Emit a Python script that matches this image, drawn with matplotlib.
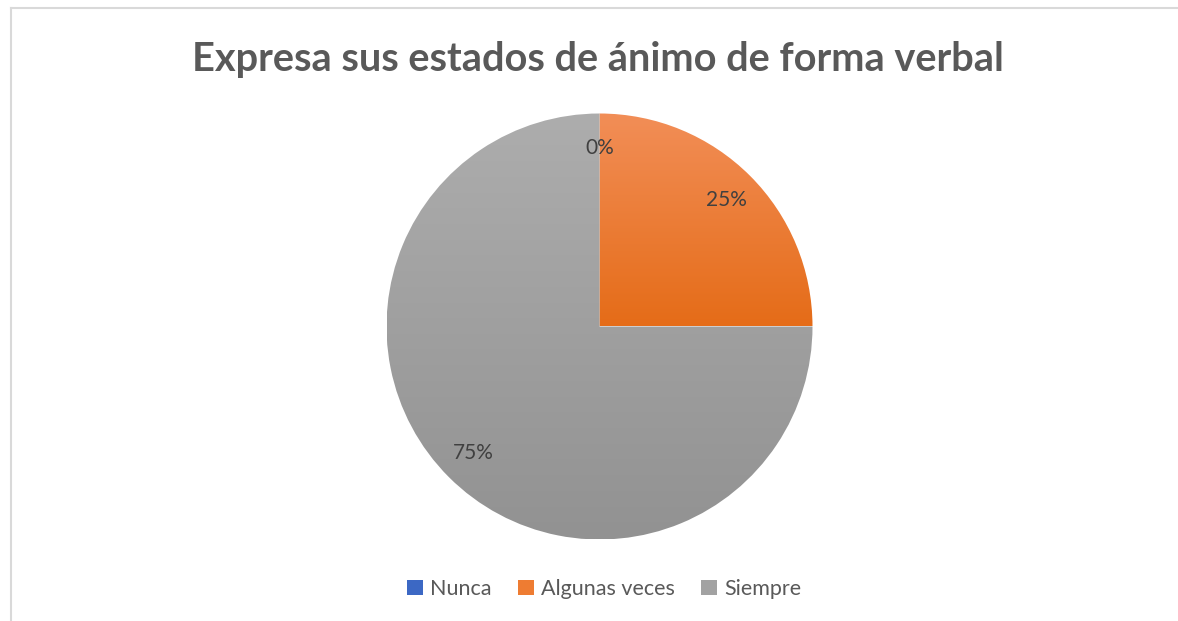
import numpy as np
import matplotlib.pyplot as plt
from matplotlib.colors import LinearSegmentedColormap
from matplotlib.lines import Line2D
from matplotlib.patches import Patch

plt.rcParams['font.family'] = ['Lato', 'DejaVu Sans']

categories = ['Nunca', 'Algunas veces', 'Siempre']
values = [0, 25, 75]
title = 'Expresa sus estados de ánimo de forma verbal'

# gradient (top -> bottom) per slice, like the Excel default style
grad_colors = [('#4F7ED0', '#2F5EBA'),
               ('#F28E57', '#E56C18'),
               ('#ADADAD', '#929292')]
legend_colors = ['#3C68C4', '#EE7C32', '#A2A2A2']

W, H = 1178, 621
fig = plt.figure(figsize=(W / 100, H / 100), dpi=100)

# chart frame (left and top edge only visible)
fig.add_artist(Line2D([10.5 / W, 10.5 / W], [0, 1 - 8 / H], color='#D9D9D9', lw=1.5))
fig.add_artist(Line2D([10.5 / W, 1], [1 - 8 / H, 1 - 8 / H], color='#D9D9D9', lw=1.5))

cx, cy, r = 599.5, 326.5, 213
ax = fig.add_axes([(cx - r) / W, (H - cy - r) / H, 2 * r / W, 2 * r / H])
wedges, texts, autotexts = ax.pie(values, startangle=90, counterclock=False, radius=1,
                                  autopct='%1.0f%%', pctdistance=0.84,
                                  textprops={'fontsize': 15, 'color': '#404040'},
                                  wedgeprops={'linewidth': 0})
ax.set_xlim(-1, 1)
ax.set_ylim(-1, 1)
ax.set_aspect('equal')
ax.axis('off')

grad = np.linspace(0, 1, 256).reshape(-1, 1)
for w, (c_top, c_bot) in zip(wedges, grad_colors):
    if w.theta1 == w.theta2:
        continue
    cmap = LinearSegmentedColormap.from_list('g', [c_top, c_bot])
    bb = w.get_path().get_extents()
    im = ax.imshow(grad, cmap=cmap, aspect='auto',
                   extent=[bb.x0, bb.x1, bb.y0, bb.y1], origin='upper', zorder=1)
    w.set_facecolor('none')
    im.set_clip_path(w)
for t in autotexts:
    t.set_zorder(5)

fig.text(0.508, 1 - 59 / H, title, ha='center', va='center',
         fontsize=28.6, fontweight='bold', color='#595959')

handles = [Patch(facecolor=c, edgecolor='none') for c in legend_colors]
fig.legend(handles, categories, loc='center', bbox_to_anchor=(604 / W, 1 - 589 / H),
           ncol=3, frameon=False, fontsize=15.5, labelcolor='#595959',
           handlelength=0.75, handleheight=0.75, handletextpad=0.3, columnspacing=1.25)

fig.savefig('out.png', dpi=100)
